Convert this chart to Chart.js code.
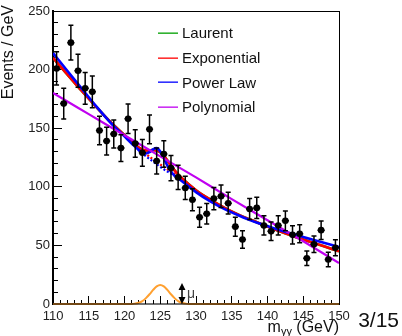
<!DOCTYPE html>
<html>
<head>
<meta charset="utf-8">
<script src="https://cdn.jsdelivr.net/npm/chart.js@4.4.0/dist/chart.umd.min.js"></script>
<style>
  html, body { margin: 0; padding: 0; background: #fff; }
  canvas { display: block; }
</style>
</head>
<body>
<canvas id="c" width="402" height="336"></canvas>
<script>
// Diphoton invariant-mass spectrum in 1 GeV bins
const massBins = [110.5, 111.5, 112.5, 113.5, 114.5, 115.5, 116.5, 117.5, 118.5, 119.5,
                  120.5, 121.5, 122.5, 123.5, 124.5, 125.5, 126.5, 127.5, 128.5, 129.5,
                  130.5, 131.5, 132.5, 133.5, 134.5, 135.5, 136.5, 137.5, 138.5, 139.5,
                  140.5, 141.5, 142.5, 143.5, 144.5, 145.5, 146.5, 147.5, 148.5, 149.5];
const eventsPerGeV = [201, 171, 223, 199, 184, 181, 148, 139, 145, 133,
                      158, 137, 129, 149, 122, 128, 116, 108, 99, 89,
                      74, 77, 90, 92, 86, 66, 55, 81, 82, 67,
                      62, 67, 71, 59, 60, 39, 51, 63, 38, 48];
const eventErrors = [14.2, 13.1, 14.9, 14.1, 13.6, 13.5, 12.2, 11.8, 12.0, 11.5,
                     12.6, 11.7, 11.4, 12.2, 11.0, 11.3, 10.8, 10.4, 9.9, 9.4,
                     8.6, 8.8, 9.5, 9.6, 9.3, 8.1, 7.4, 9.0, 9.1, 8.2,
                     7.9, 8.2, 8.4, 7.7, 7.7, 6.2, 7.1, 7.9, 6.2, 6.9];

// Signal-plus-background fits, sampled along the mass axis
const curveMass = [110, 112, 114, 116, 118, 120, 121, 122, 123, 123.5, 124, 124.5, 125, 125.5,
                   126, 126.5, 127, 128, 130, 132, 134, 136, 138, 140, 142, 144, 146, 148, 150];
const laurentFit = [210, 196, 182, 168.5, 155.5, 144, 138.5, 133.5, 131, 131, 131.5, 131, 129.5, 126.5,
                    122.5, 118, 114, 107.5, 97, 89, 82, 76, 71, 66, 61.5, 57, 53, 49, 45];
const exponentialFit = [210, 196, 182, 168.5, 155.5, 144, 138.5, 133.5, 131, 131, 131.5, 131, 129.5, 126.5,
                        122.5, 118, 114, 107.5, 97, 89, 82, 76, 71, 66, 61.5, 57, 53, 49, 45];
const powerLawFit = [214, 199, 184, 169, 155, 143, 137, 131.5, 128.4, 129.5, 132, 133, 130.2, 124.4,
                     118, 113, 109.5, 105, 95.5, 87.5, 81, 75.5, 70.5, 66.5, 62.5, 59, 55.5, 52, 48.5];

// Background-only components inside the signal window
const bkgMass = [121.5, 122, 123, 124, 125, 126, 127, 127.5];
const exponentialBkg = [136, 133, 128, 123.5, 119, 115, 111, 109];
const powerLawBkg = [134, 131, 126, 121.5, 117, 113, 109.5, 107.5];

const polyMass = [110, 115, 120, 125, 130, 135, 140, 145, 150];
const polynomialFit = [180, 162, 144, 126, 108, 89.5, 71.5, 53.5, 35];

// Signal shape along the baseline
const signalMass = [110, 121, 121.5, 122, 122.5, 123, 123.5, 124, 124.5, 125, 125.5,
                    126, 126.5, 127, 127.5, 128, 128.5, 129, 150];
const signalShape = [0, 0, 0.4, 1.1, 2.5, 5, 8.3, 12, 15, 16.2, 15,
                     12, 8.3, 5, 2.5, 1.1, 0.4, 0, 0];

// Arrow marker (position, height), tick sets and labels
const arrowMass = 128;
const arrowHeight = 18;
const xTicks = [110, 115, 120, 125, 130, 135, 140, 145, 150];
const xMinorTicks = [110, 111, 112, 113, 114, 115, 116, 117, 118, 119, 120, 121, 122, 123, 124, 125,
                     126, 127, 128, 129, 130, 131, 132, 133, 134, 135, 136, 137, 138, 139, 140,
                     141, 142, 143, 144, 145, 146, 147, 148, 149, 150];
const yTicks = [0, 50, 100, 150, 200, 250];
const yMinorTicks = [0, 10, 20, 30, 40, 50, 60, 70, 80, 90, 100, 110, 120, 130, 140, 150,
                     160, 170, 180, 190, 200, 210, 220, 230, 240, 250];
const yTitle = 'Events / GeV';
const pageLabel = '3/15';

const FONT = "'Liberation Sans', Arial, Helvetica, sans-serif";
const toPoints = (xs, ys) => xs.map((m, i) => ({ x: m, y: ys[i] }));

const fitLine = (label, xs, ys, color, width, extra) => Object.assign({
  label: label, data: toPoints(xs, ys), borderColor: color, borderWidth: width,
  pointRadius: 0, fill: false, cubicInterpolationMode: 'monotone', showLine: true
}, extra || {});

const chartDatasets = [
  { label: 'Data', data: toPoints(massBins, eventsPerGeV), showLine: false,
    pointRadius: 3.3, pointBackgroundColor: '#000', pointBorderWidth: 0.5, errors: eventErrors },
  fitLine('Polynomial', polyMass, polynomialFit, '#c000f0', 2.2, { inLegend: 4 }),
  fitLine('Power Law', curveMass, powerLawFit, '#0000ff', 2.6, { inLegend: 3 }),
  fitLine('Exponential', curveMass, exponentialFit, '#ff0000', 2.6, { inLegend: 2 }),
  fitLine('Power Law bkg', bkgMass, powerLawBkg, '#0000ff', 2.2, { borderDash: [2, 2] }),
  fitLine('Exponential bkg', bkgMass, exponentialBkg, '#ff0000', 2.2, { borderDash: [2, 2] }),
  fitLine('Laurent', curveMass, laurentFit, '#00a000', 2.6, { inLegend: 1 }),
  fitLine('Signal', signalMass, signalShape, '#ffa030', 2, { clip: false })
];

const rootStyle = {
  id: 'rootStyle',
  beforeDatasetDraw(chart, args) {
    const ds = chart.data.datasets[args.index];
    if (!ds.errors) return;
    const ctx = chart.ctx;
    const x = chart.scales.x, y = chart.scales.y;
    ctx.save();
    ctx.setLineDash([]);
    ctx.strokeStyle = '#000';
    ctx.lineWidth = 1.5;
    ctx.beginPath();
    ds.data.forEach((p, i) => {
      const px = x.getPixelForValue(p.x);
      const py = y.getPixelForValue(p.y);
      const yl = y.getPixelForValue(p.y - ds.errors[i]);
      const yh = y.getPixelForValue(p.y + ds.errors[i]);
      ctx.moveTo(px, yl); ctx.lineTo(px, yh);
      ctx.moveTo(px - 2.5, yl); ctx.lineTo(px + 2.5, yl);
      ctx.moveTo(px - 2.5, yh); ctx.lineTo(px + 2.5, yh);
      ctx.moveTo(x.getPixelForValue(p.x - 0.5), py); ctx.lineTo(x.getPixelForValue(p.x + 0.5), py);
    });
    ctx.stroke();
    ctx.restore();
  },
  afterDraw(chart) {
    const ctx = chart.ctx;
    const a = chart.chartArea;
    const x = chart.scales.x, y = chart.scales.y;
    ctx.save();
    ctx.setLineDash([]);
    ctx.fillStyle = '#111';

    // y title
    ctx.save();
    ctx.translate(12.5, 5);
    ctx.rotate(-Math.PI / 2);
    ctx.font = '16px ' + FONT;
    ctx.textAlign = 'right';
    ctx.textBaseline = 'alphabetic';
    ctx.fillText(yTitle, 0, 0);
    ctx.restore();

    // x title m_γγ (GeV), right-aligned with the end of the axis
    ctx.textBaseline = 'alphabetic';
    ctx.font = '16px ' + FONT;
    const unit = ' (GeV)';
    const wUnit = ctx.measureText(unit).width;
    ctx.font = '11px ' + FONT;
    const wSub = ctx.measureText('γγ').width;
    ctx.font = '16px ' + FONT;
    const wM = ctx.measureText('m').width;
    const tx = a.right - wUnit - wSub - wM;
    const base = 332;
    ctx.fillText('m', tx, base);
    ctx.font = '11px ' + FONT;
    ctx.fillText('γγ', tx + wM, base + 3);
    ctx.font = '16px ' + FONT;
    ctx.fillText(unit, tx + wM + wSub, base);

    // page number
    ctx.font = '21px ' + FONT;
    ctx.textAlign = 'right';
    ctx.fillText(pageLabel, 399, 327);

    // legend
    ctx.textAlign = 'left';
    ctx.textBaseline = 'middle';
    ctx.font = '15px ' + FONT;
    const items = chart.data.datasets.filter(d => d.inLegend).sort((p, q) => p.inLegend - q.inLegend);
    items.forEach((d, i) => {
      const ly = 33 + i * 24.7;
      ctx.fillStyle = d.borderColor;
      ctx.fillRect(158, Math.round(ly) - 0.5, 20, 1.3);
      ctx.fillStyle = '#111';
      ctx.fillText(d.label, 182, ly + 1);
    });

    // double-headed arrow with mu label
    const ax = Math.round(x.getPixelForValue(arrowMass));
    const at = y.getPixelForValue(arrowHeight);
    const ab = y.getPixelForValue(0);
    ctx.fillStyle = '#000';
    ctx.fillRect(ax - 0.75, at + 5, 1.5, ab - at - 10);
    ctx.beginPath();
    ctx.moveTo(ax, at); ctx.lineTo(ax - 3.5, at + 7); ctx.lineTo(ax + 3.5, at + 7); ctx.closePath();
    ctx.moveTo(ax, ab); ctx.lineTo(ax - 3.5, ab - 7); ctx.lineTo(ax + 3.5, ab - 7); ctx.closePath();
    ctx.fill();
    ctx.fillStyle = '#444';
    ctx.font = '14px ' + FONT;
    ctx.textBaseline = 'middle';
    ctx.fillText('μ', ax + 5, (at + ab) / 2 + 1);
    ctx.restore();
  }
};

// Zero-size helper axes that only draw inward tick marks or a frame edge
const tickAxis = (position, min, max, values, length) => ({
  type: 'linear', position: position, min: min, max: max, weight: 0,
  afterFit(s) { if (s.isHorizontal()) s.height = 0; else s.width = 0; },
  afterBuildTicks(s) { s.ticks = values.map(v => ({ value: v })); },
  grid: { display: true, drawOnChartArea: false, drawTicks: true, tickLength: -length,
          color: '#000', lineWidth: 1 },
  border: { display: false },
  ticks: { display: false, autoSkip: false }
});
const edgeAxis = (position, min, max) => ({
  type: 'linear', position: position, min: min, max: max, weight: 0,
  afterFit(s) { if (s.isHorizontal()) s.height = 0; else s.width = 0; },
  grid: { display: false },
  border: { display: true, color: '#000', width: 1 },
  ticks: { display: false }
});

new Chart(document.getElementById('c'), {
  type: 'line',
  data: { datasets: chartDatasets },
  plugins: [rootStyle],
  options: {
    responsive: false,
    animation: false,
    devicePixelRatio: 1,
    layout: { padding: { left: 0, top: 11, right: 63, bottom: 0 } },
    plugins: { legend: { display: false }, tooltip: { enabled: false } },
    scales: {
      x: {
        type: 'linear', position: 'bottom', min: 110, max: 150, weight: 1,
        afterFit(s) { s.height = 32; },
        afterBuildTicks(s) { s.ticks = xTicks.map(v => ({ value: v })); },
        grid: { display: false, drawTicks: false },
        border: { display: true, width: 2, color: 'rgba(0,0,0,0.55)', z: 1 },
        ticks: { padding: 5, maxRotation: 0, autoSkip: false, color: '#222', font: { family: FONT, size: 13 } }
      },
      y: {
        type: 'linear', position: 'left', min: 0, max: 250, weight: 1,
        afterFit(s) { s.width = 53; },
        afterBuildTicks(s) { s.ticks = yTicks.map(v => ({ value: v })); },
        grid: { display: false, drawTicks: false },
        border: { display: true, width: 2, color: '#000' },
        ticks: { padding: 3, color: '#222', font: { family: FONT, size: 13 } }
      },
      xMinor: tickAxis('bottom', 110, 150, xMinorTicks, 4),
      xMajor: tickAxis('bottom', 110, 150, xTicks, 8),
      yMinor: tickAxis('left', 0, 250, yMinorTicks, 5),
      yMajor: tickAxis('left', 0, 250, yTicks, 9),
      xTop: edgeAxis('top', 110, 150),
      yRight: edgeAxis('right', 0, 250)
    }
  }
});
</script>
</body>
</html>
